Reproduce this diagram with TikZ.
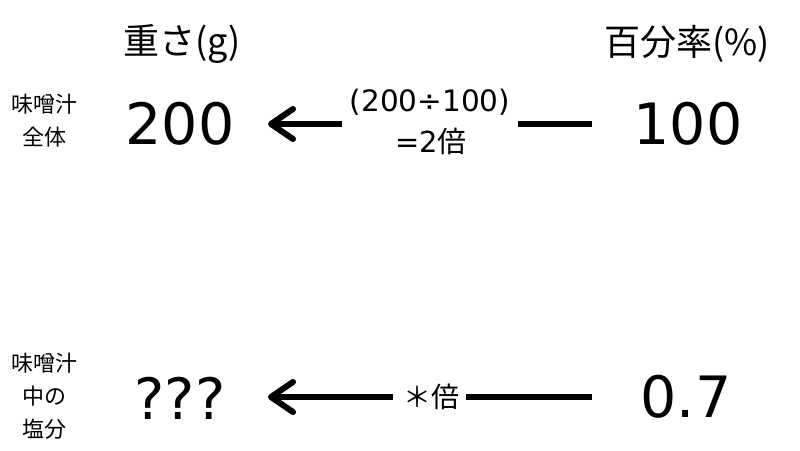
\documentclass[tikz,border=0pt]{standalone}
\usepackage{fontspec}
\setmainfont{DejaVu Sans}
\newfontfamily\jp{Noto Sans CJK JP}
\usetikzlibrary{arrows.meta}
\begin{document}
\begin{tikzpicture}[x=1pt,y=-1pt,
  head/.style={font=\jp\fontsize{36}{40}\selectfont, inner sep=0pt},
  side/.style={font=\jp\fontsize{22}{33}\selectfont, inner sep=0pt, align=center},
  big/.style={font=\fontsize{57}{60}\selectfont, inner sep=0pt},
  mid/.style={font=\fontsize{29.5}{34}\selectfont, inner sep=0pt, align=center},
  conn/.style={line width=6pt},
  arr/.style={conn, -{Straight Barb[length=22pt,width=30pt,line width=6pt,round]}}]
\useasboundingbox (0,0) rectangle (800,450);
\node[head] (h1) at (182,44) {重さ(g)};
\node[head] (h2) at (687,44) {百分率(\%)};
\node[side] (s1) at (44,121) {味噌汁\\全体};
\node[side] (s2) at (44,396) {味噌汁\\中の\\塩分};
\node[big] (a200) at (180,124) {200};
\node[big] (a100) at (688,124) {100};
\node[mid] (m1) at (430,102) {(200÷100)};
\node[font=\fontsize{29}{34}\selectfont, inner sep=0pt] (m2) at (431,141) {=2{\jp 倍}};
\node[big] (q) at (180,398) {???};
\node[big] (b07) at (686,397) {0.7};
\node[font=\jp\fontsize{28}{32}\selectfont, inner sep=0pt] (m3) at (431,397) {＊倍};
\coordinate (l1a) at (342,124);
\coordinate (l1b) at (268,124);
\coordinate (r1a) at (592,124);
\coordinate (r1b) at (518,124);
\coordinate (l2a) at (393,397);
\coordinate (l2b) at (268,397);
\coordinate (r2a) at (592,397);
\coordinate (r2b) at (466,397);
\draw[arr] (l1a) -- (l1b);
\draw[conn] (r1a) -- (r1b);
\draw[arr] (l2a) -- (l2b);
\draw[conn] (r2a) -- (r2b);
\end{tikzpicture}
\end{document}
